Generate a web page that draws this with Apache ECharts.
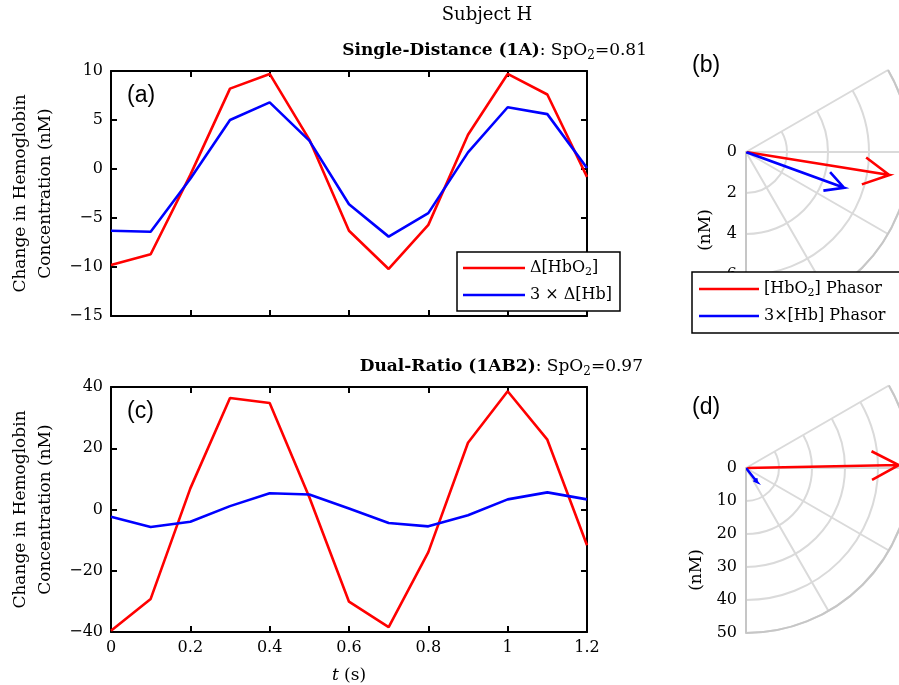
<!DOCTYPE html>
<html>
<head>
<meta charset="utf-8">
<script src="https://cdn.jsdelivr.net/npm/echarts@6/dist/echarts.min.js"></script>
<style>
  html, body { margin: 0; padding: 0; background: #fff; }
  #chart { width: 899px; height: 685px; }
</style>
</head>
<body>
<div id="chart"></div>
<script>
// Sample times (s)
const tSec = [0, 0.1, 0.2, 0.3, 0.4, 0.5, 0.6, 0.7, 0.8, 0.9, 1.0, 1.1, 1.2];

// Single-distance (1A) hemoglobin changes (nM)
const sdHbO2 = [-9.8, -8.7, -0.6, 8.2, 9.7, 3.0, -6.3, -10.2, -5.7, 3.5, 9.7, 7.6, -0.8];
const sdHb3 = [-6.3, -6.4, -1.0, 5.0, 6.8, 2.9, -3.6, -6.9, -4.5, 1.7, 6.3, 5.6, 0.1];

// Dual-ratio (1AB2) hemoglobin changes (nM)
const drHbO2 = [-39.6, -29.2, 6.9, 36.4, 34.8, 4.0, -30.1, -38.4, -13.9, 21.8, 38.6, 22.8, -11.7];
const drHb3 = [-2.4, -5.7, -4.0, 1.1, 5.3, 4.9, 0.3, -4.4, -5.5, -1.9, 3.3, 5.6, 3.3];

// Phasors: magnitude (nM) and phase (deg) for [HbO2] and 3x[Hb]
const sdPhasorMag = [7.08, 5.09];
const sdPhasorDeg = [-9.1, -20.0];
const drPhasorMag = [46.3, 5.3];
const drPhasorDeg = [1.1, -52.0];

// Axis tick settings
const xTicks = { min: 0, max: 1.2, step: 0.2 };
const sdYTicks = { min: -15, max: 10, step: 5 };
const drYTicks = { min: -40, max: 40, step: 20 };
const sdRadTicks = { max: 8, step: 2 };
const drRadTicks = { max: 50, step: 10 };

const RED = '#ff0000';
const BLUE = '#0000ff';
const SERIF = '"DejaVu Serif", "Liberation Serif", serif';
const SANS = '"Liberation Sans", Arial, sans-serif';
const GRID_GRAY = '#dadada';
const EDGE_GRAY = '#c6c6c6';
const FS = 16;      // tick labels and legends
const FS_T = 17;    // titles and axis names

const minusFmt = v => (v < 0 ? '\u2212' + Math.abs(v) : String(v));

function zip(xs, ys) { return xs.map((x, i) => [x, ys[i]]); }

// Compass-style arrow: shaft from origin to tip, plus two barbs, as [radius, angle] pairs
function phasorPath(mag, deg) {
  const th = deg * Math.PI / 180;
  const tx = mag * Math.cos(th), ty = mag * Math.sin(th);
  const L = 0.2 * mag, a = 28 * Math.PI / 180;
  const barb = s => {
    const bx = tx - L * Math.cos(th + s * a);
    const by = ty - L * Math.sin(th + s * a);
    return [Math.hypot(bx, by), Math.atan2(by, bx) * 180 / Math.PI];
  };
  return [[0, deg], [mag, deg], barb(1), [mag, deg], barb(-1)];
}

const boxLine = { show: true, onZero: false, lineStyle: { color: '#000', width: 2 } };
const boxTick = { show: true, inside: true, length: 6, lineStyle: { color: '#000', width: 2 } };
const tickFont = { fontFamily: SERIF, fontSize: FS, color: '#000' };

function xAxisPair(grid, withLabels) {
  const base = { type: 'value', gridIndex: grid, min: xTicks.min, max: xTicks.max, interval: xTicks.step,
    axisLine: boxLine, axisTick: boxTick, splitLine: { show: false } };
  const bottom = Object.assign({}, base, { position: 'bottom',
    axisLabel: withLabels ? Object.assign({ show: true, margin: 8 }, tickFont) : { show: false } });
  if (withLabels) {
    Object.assign(bottom, {
      name: '{i|t} (s)', nameLocation: 'middle', nameGap: 35,
      nameTextStyle: { fontFamily: SERIF, fontSize: FS_T, color: '#000',
        rich: { i: { fontFamily: SERIF, fontSize: FS_T, fontStyle: 'italic', color: '#000' } } }
    });
  }
  const top = Object.assign({}, base, { position: 'top', axisLabel: { show: false } });
  return [bottom, top];
}

function yAxisPair(grid, ticks) {
  const base = { type: 'value', gridIndex: grid, min: ticks.min, max: ticks.max, interval: ticks.step,
    axisLine: boxLine, axisTick: boxTick, splitLine: { show: false } };
  const left = Object.assign({}, base, { position: 'left',
    axisLabel: Object.assign({ show: true, margin: 8, formatter: minusFmt }, tickFont),
    name: 'Change in Hemoglobin\nConcentration (nM)', nameLocation: 'middle', nameRotate: 90, nameGap: 53,
    nameTextStyle: { fontFamily: SERIF, fontSize: FS_T, color: '#000', lineHeight: 25, align: 'center' } });
  const right = Object.assign({}, base, { position: 'right', axisLabel: { show: false } });
  return [left, right];
}

function angleAxis(idx) {
  return { polarIndex: idx, type: 'value', min: -90, max: 30, interval: 30,
    startAngle: -90, endAngle: 30, clockwise: false,
    axisLine: { show: true, lineStyle: { color: EDGE_GRAY, width: 2 } },
    axisTick: { show: false }, axisLabel: { show: false },
    splitLine: { show: true, lineStyle: { color: GRID_GRAY, width: 2 } } };
}

// Radial labels sit to the left of the downward radius axis
function radiusAxis(idx, ticks) {
  return { polarIndex: idx, type: 'value', min: 0, max: ticks.max, interval: ticks.step,
    axisLine: { show: true, lineStyle: { color: EDGE_GRAY, width: 2 } },
    axisTick: { show: false },
    axisLabel: Object.assign({ show: true, margin: -9, align: 'right', verticalAlign: 'middle' }, tickFont),
    splitLine: { show: true, lineStyle: { color: GRID_GRAY, width: 2 } } };
}

function richSet(size) {
  return {
    s: { fontFamily: SERIF, fontSize: Math.round(size * 0.7), color: '#000', lineHeight: Math.round(size * 0.7), verticalAlign: 'bottom' },
    b: { fontFamily: SERIF, fontSize: size, fontWeight: 'bold', color: '#000', lineHeight: size + 4 },
    n: { fontFamily: SERIF, fontSize: size, color: '#000', lineHeight: size + 4 }
  };
}

const legendNames = {
  'HbO2': '{n|\u0394[HbO}{s|2}{n|]}',
  'Hb3': '{n|3 \u00d7 \u0394[Hb]}',
  'HbO2 Phasor': '{n|[HbO}{s|2}{n|] Phasor}',
  'Hb3 Phasor': '{n|3\u00d7[Hb] Phasor}'
};

function lineSeries(name, color, xi, yi, ys) {
  return { type: 'line', name, xAxisIndex: xi, yAxisIndex: yi, data: zip(tSec, ys),
    symbol: 'none', lineStyle: { color, width: 2.6 }, itemStyle: { color }, z: 3 };
}

function phasorSeries(name, color, pi, mag, deg) {
  return { type: 'line', name, coordinateSystem: 'polar', polarIndex: pi, data: phasorPath(mag, deg),
    symbol: 'none', lineStyle: { color, width: 2.6, join: 'miter' }, itemStyle: { color }, z: 3 };
}

function label(text, x, y, font, opts) {
  return { type: 'text', x, y, z: 10,
    style: Object.assign({ text, font, fill: '#000', textAlign: 'left', textVerticalAlign: 'middle' },
      opts || {}) };
}

const legendBase = {
  orient: 'vertical', icon: 'rect', itemHeight: 2.6, itemGap: 9,
  backgroundColor: '#fff', borderColor: '#000', borderWidth: 1.5, borderRadius: 0,
  formatter: n => legendNames[n], selectedMode: false,
  textStyle: { fontFamily: SERIF, fontSize: FS, color: '#000', rich: richSet(FS) }
};

const chart = echarts.init(document.getElementById('chart'), null, { renderer: 'canvas' });

const xA = xAxisPair(0, false).concat(xAxisPair(1, true));
const yA = yAxisPair(0, sdYTicks).concat(yAxisPair(1, drYTicks));

chart.setOption({
  animation: false,
  backgroundColor: '#fff',
  grid: [
    { left: 111, top: 71, width: 476, height: 245 },
    { left: 111, top: 387, width: 476, height: 246 }
  ],
  xAxis: xA,
  yAxis: yA,
  polar: [
    { center: [746, 152], radius: 164 },
    { center: [746, 468], radius: 165 }
  ],
  angleAxis: [angleAxis(0), angleAxis(1)],
  radiusAxis: [radiusAxis(0, sdRadTicks), radiusAxis(1, drRadTicks)],
  legend: [
    Object.assign({}, legendBase, { data: ['HbO2', 'Hb3'], left: 457, top: 252,
      itemWidth: 62, padding: [8, 8, 8, 6] }),
    Object.assign({}, legendBase, { data: ['HbO2 Phasor', 'Hb3 Phasor'], left: 692, top: 272,
      itemWidth: 60, padding: [9, 40, 9, 7] })
  ],
  series: [
    lineSeries('HbO2', RED, 0, 0, sdHbO2),
    lineSeries('Hb3', BLUE, 0, 0, sdHb3),
    lineSeries('HbO2', RED, 2, 2, drHbO2),
    lineSeries('Hb3', BLUE, 2, 2, drHb3),
    phasorSeries('HbO2 Phasor', RED, 0, sdPhasorMag[0], sdPhasorDeg[0]),
    phasorSeries('Hb3 Phasor', BLUE, 0, sdPhasorMag[1], sdPhasorDeg[1]),
    phasorSeries('HbO2 Phasor', RED, 1, drPhasorMag[0], drPhasorDeg[0]),
    phasorSeries('Hb3 Phasor', BLUE, 1, drPhasorMag[1], drPhasorDeg[1])
  ],
  graphic: [
    label('Subject H', 487, 15, '18px ' + SERIF, { textAlign: 'center' }),
    { type: 'text', x: 647, y: 51, z: 10, style: {
      text: '{b|Single-Distance (1A)}{n|: SpO}{s|2}{n|=0.81}', rich: richSet(FS_T),
      textAlign: 'right', textVerticalAlign: 'middle' } },
    { type: 'text', x: 643, y: 367, z: 10, style: {
      text: '{b|Dual-Ratio (1AB2)}{n|: SpO}{s|2}{n|=0.97}', rich: richSet(FS_T),
      textAlign: 'right', textVerticalAlign: 'middle' } },
    label('(a)', 127, 96, '23px ' + SANS),
    label('(b)', 692, 66, '23px ' + SANS),
    label('(c)', 127, 412, '23px ' + SANS),
    label('(d)', 692, 408, '23px ' + SANS),
    { type: 'text', x: 706, y: 230, rotation: Math.PI / 2, z: 10,
      style: { text: '(nM)', font: FS_T + 'px ' + SERIF, fill: '#000', textAlign: 'center', textVerticalAlign: 'middle' } },
    { type: 'text', x: 697, y: 570, rotation: Math.PI / 2, z: 10,
      style: { text: '(nM)', font: FS_T + 'px ' + SERIF, fill: '#000', textAlign: 'center', textVerticalAlign: 'middle' } }
  ]
});
</script>
</body>
</html>
